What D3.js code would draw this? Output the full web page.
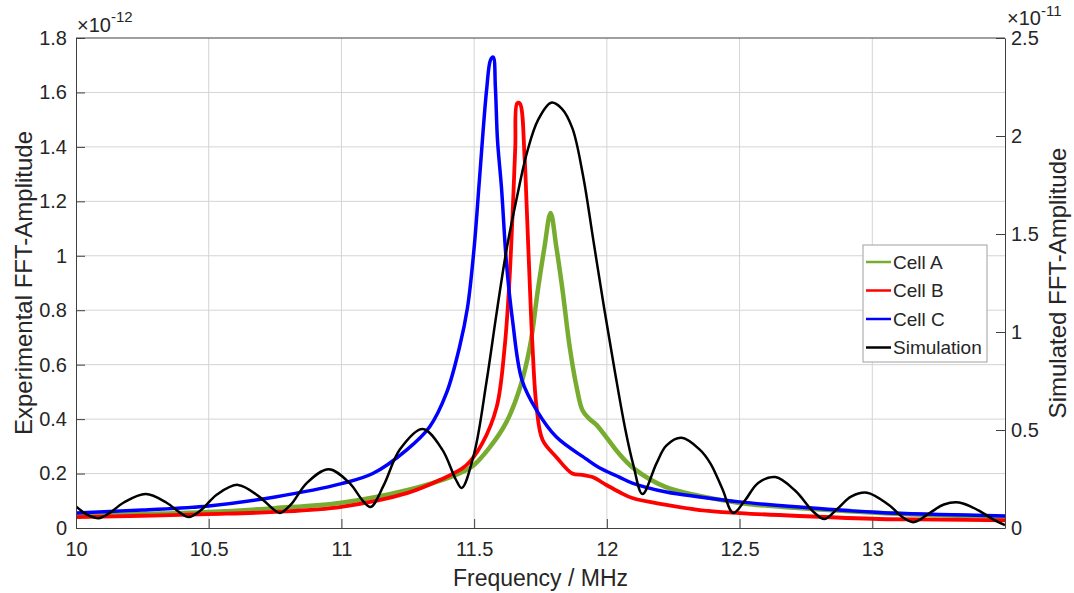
<!DOCTYPE html>
<html>
<head>
<meta charset="utf-8">
<script src="https://cdn.jsdelivr.net/npm/d3@7"></script>
<style>
  body { margin: 0; background: #fff; }
  text { font-family: "Liberation Sans", Arial, sans-serif; fill: #262626; }
</style>
</head>
<body>
<svg id="canvas" width="1074" height="593"></svg>
<script>
// tick labels
let xTicks = [10, 10.5, 11, 11.5, 12, 12.5, 13]
let yLeftTicks = [0, 0.2, 0.4, 0.6, 0.8, 1, 1.2, 1.4, 1.6, 1.8]
let yRightTicks = [0, 0.5, 1, 1.5, 2, 2.5]

// Cell A (x1e-12)
let cellAFreq = [10.00, 10.25, 10.50, 10.75, 11.00, 11.25, 11.41, 11.49, 11.56, 11.62, 11.67, 11.71, 11.74, 11.765, 11.788, 11.81, 11.833, 11.86, 11.886, 11.908, 11.935, 11.96, 12.01, 12.04, 12.10, 12.22, 12.35, 12.50, 12.72, 13.03, 13.25, 13.50]
let cellAAmp = [0.044, 0.051, 0.059, 0.073, 0.093, 0.140, 0.187, 0.224, 0.298, 0.386, 0.507, 0.665, 0.874, 1.032, 1.157, 1.03, 0.874, 0.665, 0.518, 0.433, 0.40, 0.38, 0.318, 0.28, 0.22, 0.151, 0.118, 0.092, 0.073, 0.055, 0.047, 0.040]

// Cell B (x1e-12)
let cellBFreq = [10.00, 10.25, 10.50, 10.75, 11.00, 11.25, 11.37, 11.47, 11.53, 11.585, 11.615, 11.633, 11.645, 11.655, 11.662, 11.672, 11.69, 11.697, 11.709, 11.72, 11.735, 11.758, 11.81, 11.87, 11.908, 11.946, 11.998, 12.047, 12.096, 12.224, 12.35, 12.50, 12.725, 13.026, 13.25, 13.50]
let cellBAmp = [0.040, 0.045, 0.051, 0.059, 0.078, 0.129, 0.176, 0.230, 0.310, 0.445, 0.665, 0.910, 1.157, 1.40, 1.56, 1.56, 1.363, 1.205, 0.910, 0.665, 0.445, 0.323, 0.260, 0.200, 0.195, 0.187, 0.158, 0.132, 0.110, 0.085, 0.066, 0.055, 0.044, 0.033, 0.031, 0.028]

// Cell C (x1e-12)
let cellCFreq = [10.00, 10.25, 10.50, 10.75, 11.00, 11.118, 11.246, 11.332, 11.396, 11.445, 11.475, 11.50, 11.52, 11.547, 11.562, 11.572, 11.58, 11.588, 11.603, 11.622, 11.645, 11.68, 11.735, 11.81, 11.92, 11.97, 12.047, 12.096, 12.224, 12.35, 12.50, 12.725, 13.026, 13.25, 13.50]
let cellCAmp = [0.055, 0.066, 0.081, 0.114, 0.163, 0.200, 0.287, 0.371, 0.496, 0.665, 0.81, 1.03, 1.28, 1.61, 1.72, 1.73, 1.62, 1.425, 1.25, 0.97, 0.76, 0.544, 0.433, 0.334, 0.255, 0.222, 0.187, 0.165, 0.132, 0.114, 0.096, 0.077, 0.057, 0.050, 0.044]

// Simulation (x1e-11, right axis)
let simFreq = [10.00, 10.04, 10.087, 10.13, 10.18, 10.263, 10.34, 10.39, 10.425, 10.47, 10.53, 10.61, 10.69, 10.74, 10.768, 10.81, 10.87, 10.952, 11.03, 11.08, 11.11, 11.16, 11.22, 11.306, 11.38, 11.43, 11.453, 11.50, 11.547, 11.585, 11.622, 11.66, 11.70, 11.74, 11.79, 11.83, 11.87, 11.91, 11.95, 11.99, 12.03, 12.07, 12.10, 12.134, 12.187, 12.224, 12.281, 12.35, 12.39, 12.435, 12.476, 12.52, 12.57, 12.635, 12.71, 12.78, 12.82, 12.87, 12.92, 12.98, 13.06, 13.12, 13.158, 13.22, 13.27, 13.327, 13.40, 13.46, 13.50]
let simAmp = [0.11, 0.07, 0.05, 0.08, 0.13, 0.173, 0.13, 0.08, 0.056, 0.09, 0.17, 0.22, 0.16, 0.10, 0.077, 0.12, 0.23, 0.30, 0.23, 0.14, 0.107, 0.22, 0.40, 0.505, 0.40, 0.25, 0.204, 0.38, 0.75, 1.10, 1.42, 1.68, 1.92, 2.08, 2.17, 2.14, 2.04, 1.80, 1.46, 1.12, 0.80, 0.50, 0.32, 0.173, 0.33, 0.42, 0.46, 0.40, 0.33, 0.20, 0.077, 0.14, 0.23, 0.26, 0.19, 0.08, 0.046, 0.10, 0.16, 0.18, 0.12, 0.05, 0.03, 0.08, 0.12, 0.13, 0.09, 0.04, 0.015]

let series = [
    {name: 'Cell A', color: '#77ac30', width: 4.5, freq: cellAFreq, amp: cellAAmp, axis: 'left'},
    {name: 'Cell B', color: '#ff0000', width: 3.8, freq: cellBFreq, amp: cellBAmp, axis: 'left'},
    {name: 'Cell C', color: '#0000ff', width: 3.5, freq: cellCFreq, amp: cellCAmp, axis: 'left'},
    {name: 'Simulation', color: '#000000', width: 2.5, freq: simFreq, amp: simAmp, axis: 'right'}
]

let padLeft = 76, padRight = 1005, padTop = 38, padBottom = 528

let canvas = d3.select('#canvas')

let xScale = d3.scaleLinear().domain([10, 13.5]).range([padLeft, padRight])
let yLeft = d3.scaleLinear().domain([0, 1.8]).range([padBottom, padTop])
let yRight = d3.scaleLinear().domain([0, 2.5]).range([padBottom, padTop])

let fmt = d3.format('.1~f')

// grid
canvas.append('g').selectAll('line')
    .data(xTicks.slice(1))
    .enter().append('line')
    .attr('x1', (d) => xScale(d)).attr('x2', (d) => xScale(d))
    .attr('y1', padTop).attr('y2', padBottom)
    .attr('stroke', '#d4d4d4').attr('stroke-width', 1)
canvas.append('g').selectAll('line')
    .data(yLeftTicks.slice(1, -1))
    .enter().append('line')
    .attr('x1', padLeft).attr('x2', padRight)
    .attr('y1', (d) => yLeft(d)).attr('y2', (d) => yLeft(d))
    .attr('stroke', '#d4d4d4').attr('stroke-width', 1)

// lines
canvas.append('clipPath').attr('id', 'clip')
    .append('rect').attr('x', padLeft).attr('y', padTop)
    .attr('width', padRight - padLeft).attr('height', padBottom - padTop)

let plot = canvas.append('g').attr('clip-path', 'url(#clip)')
series.forEach((s) => {
    let yScale = s.axis == 'left' ? yLeft : yRight
    let line = d3.line()
        .x((d, i) => xScale(s.freq[i]))
        .y((d) => yScale(d))
        .curve(d3.curveCatmullRom.alpha(0.5))
    plot.append('path')
        .attr('d', line(s.amp))
        .attr('fill', 'none')
        .attr('stroke', s.color)
        .attr('stroke-width', s.width)
        .attr('stroke-linejoin', 'round')
})

// axes
let xAxis = d3.axisBottom(xScale).tickValues(xTicks).tickFormat(d3.format('~g'))
    .tickSizeInner(-9).tickSizeOuter(0).tickPadding(16)
let gx = canvas.append('g').attr('transform', 'translate(0,' + padBottom + ')').call(xAxis)

let yAxisL = d3.axisLeft(yLeft).tickValues(yLeftTicks).tickFormat(fmt)
    .tickSizeInner(-9).tickSizeOuter(0).tickPadding(9)
let gyl = canvas.append('g').attr('transform', 'translate(' + padLeft + ',0)').call(yAxisL)

let yAxisR = d3.axisRight(yRight).tickValues(yRightTicks).tickFormat(fmt)
    .tickSizeInner(-9).tickSizeOuter(0).tickPadding(6)
let gyr = canvas.append('g').attr('transform', 'translate(' + padRight + ',0)').call(yAxisR)

;[gx, gyl, gyr].forEach((g) => {
    g.select('.domain').attr('stroke', '#404040')
    g.selectAll('.tick line').attr('stroke', '#404040')
    g.selectAll('.tick text')
        .style('font-family', '"Liberation Sans", Arial, sans-serif')
        .style('font-size', '20px')
        .attr('fill', '#262626')
})
gx.selectAll('.tick text').attr('dy', null).attr('y', 28)

// top border
canvas.append('line')
    .attr('x1', padLeft).attr('x2', padRight).attr('y1', padTop).attr('y2', padTop)
    .attr('stroke', '#404040')

// exponent labels
let expL = canvas.append('text').attr('x', 77).attr('y', 32).style('font-size', '20px')
expL.append('tspan').text('×10')
expL.append('tspan').attr('dy', -10).style('font-size', '15px').text('-12')

let expR = canvas.append('text').attr('x', 1007).attr('y', 25).style('font-size', '20px')
expR.append('tspan').text('×10')
expR.append('tspan').attr('dy', -9).style('font-size', '15px').text('-11')

// axis titles
canvas.append('text')
    .attr('x', (padLeft + padRight) / 2).attr('y', 586)
    .attr('text-anchor', 'middle').style('font-size', '23px')
    .text('Frequency / MHz')
canvas.append('text')
    .attr('transform', 'translate(32,' + (padTop + padBottom) / 2 + ') rotate(-90)')
    .attr('text-anchor', 'middle').style('font-size', '24px')
    .text('Experimental FFT-Amplitude')
canvas.append('text')
    .attr('transform', 'translate(1066,' + (padTop + padBottom) / 2 + ') rotate(-90)')
    .attr('text-anchor', 'middle').style('font-size', '24px')
    .text('Simulated FFT-Amplitude')

// legend
let legend = canvas.append('g')
legend.append('rect')
    .attr('x', 863).attr('y', 245).attr('width', 124).attr('height', 117)
    .attr('fill', '#fff').attr('stroke', '#a0a0a0')
let entry = legend.selectAll('g.entry')
    .data(series)
    .enter().append('g').attr('class', 'entry')
    .attr('transform', (d, i) => 'translate(0,' + (262 + i * 28.5) + ')')
entry.append('line')
    .attr('x1', 866).attr('x2', 891).attr('y1', 0).attr('y2', 0)
    .attr('stroke', (d) => d.color).attr('stroke-width', 2.5)
entry.append('text')
    .attr('x', 893).attr('y', 0).attr('dominant-baseline', 'central')
    .style('font-size', '19px')
    .text((d) => d.name)
</script>
</body>
</html>
